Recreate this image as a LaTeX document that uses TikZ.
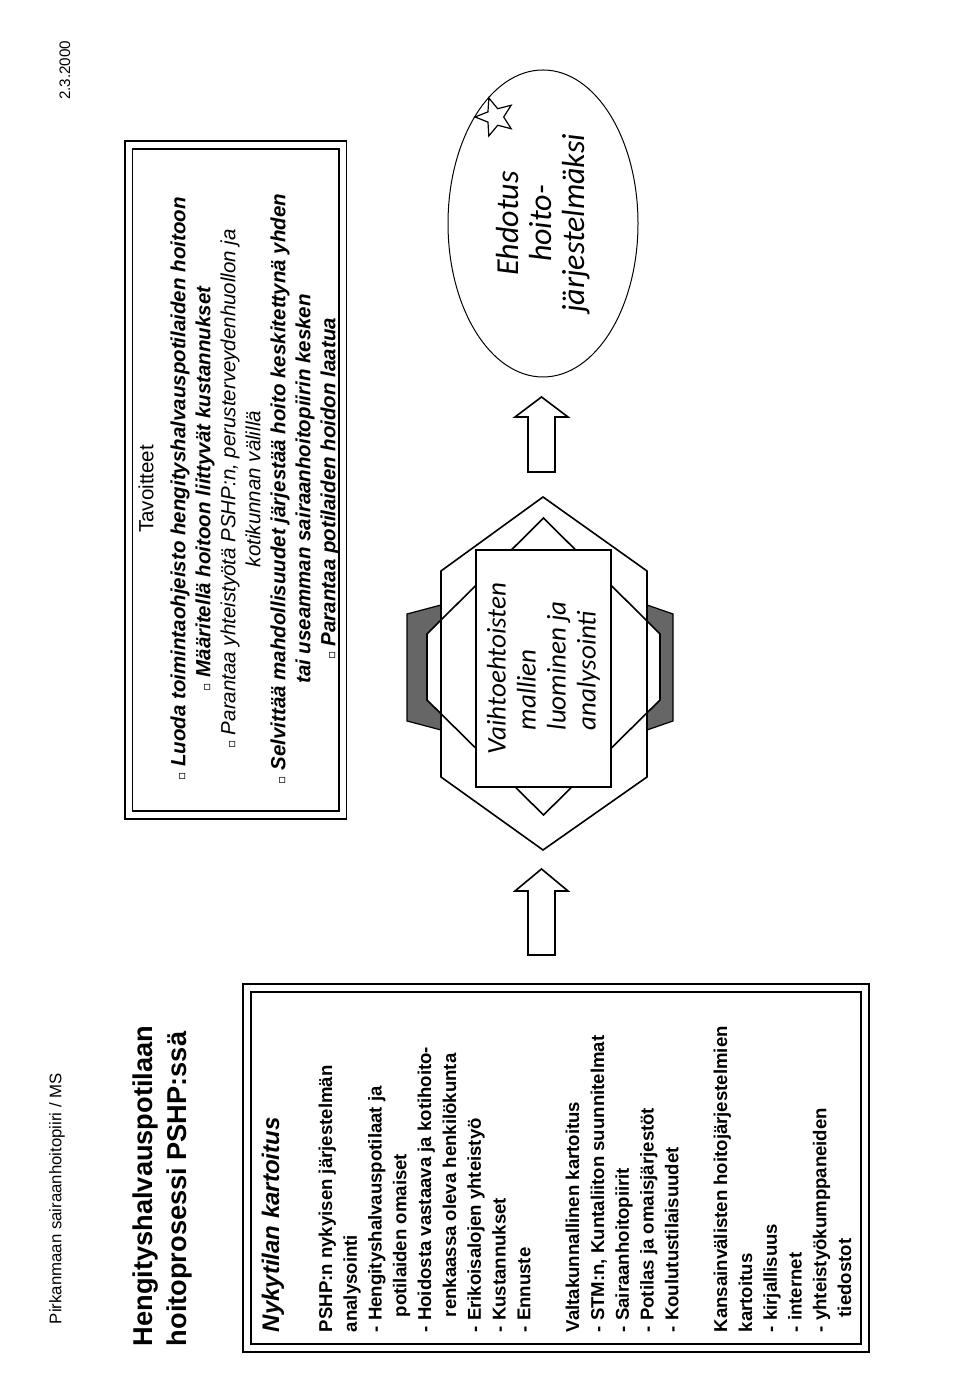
\documentclass[tikz,border=0pt]{standalone}
\usepackage{fontspec}
\setmainfont{Liberation Sans}
\newfontfamily\calfont{Carlito}
\newfontfamily\symfont{DejaVu Sans}
\usetikzlibrary{shapes.geometric}

\newcommand\sqbullet{{\symfont\upshape\mdseries\fontsize{6pt}{6pt}\selectfont ▫}}

\tikzset{
  frame/.style={draw, double, double distance=3pt, line width=0.8pt, inner sep=0pt},
  bodytext/.style={align=left, inner sep=0pt, font=\bfseries\fontsize{9.3pt}{12.4pt}\selectfont},
  goaltext/.style={align=center, inner sep=0pt, font=\itshape\fontsize{10.25pt}{12.5pt}\selectfont},
  hexline/.style={draw, line width=0.8pt, line join=miter},
  tabshade/.style={draw, fill=black!60, line width=0.6pt},
  blockarrow/.style={draw, fill=white, line width=0.8pt, line join=miter},
}

\begin{document}
\begin{tikzpicture}[x=0.5pt, y=0.5pt, thick]
\begin{scope}[shift={(960,0)}, rotate=90, transform shape]
  \path[use as bounding box, fill=white] (0,0) rectangle (1391,960);

  % header and title
  \node[anchor=west, inner sep=0pt, font=\fontsize{8.4pt}{10pt}\selectfont] (org) at (66,903) {Pirkanmaan sairaanhoitopiiri / MS};
  \node[anchor=east, inner sep=0pt, font=\fontsize{7.6pt}{10pt}\selectfont] (date) at (1351,895) {2.3.2000};
  \node[anchor=west, align=left, inner sep=0pt, font=\bfseries\fontsize{13.6pt}{17pt}\selectfont] (title) at (44,798) {Hengityshalvauspotilaan\\hoitoprosessi PSHP:ssä};

  % current state
  \node[frame, minimum width=180pt, minimum height=309pt] (current) at (223,404) {};
  \node[bodytext, anchor=north west] (currenttxt) at (58,699) {%
    {\fontsize{12pt}{12pt}\selectfont\itshape Nykytilan kartoitus}\\[14pt]
    PSHP:n nykyisen järjestelmän\\
    analysointi\\
    - Hengityshalvauspotilaat ja\\
    \hspace*{7.5pt}potilaiden omaiset\\
    - Hoidosta vastaava ja kotihoito-\\
    \hspace*{7.5pt}renkaassa oleva henkilökunta\\
    - Erikoisalojen yhteistyö\\
    - Kustannukset\\
    - Ennuste\\[12pt]
    Valtakunnallinen kartoitus\\
    - STM:n, Kuntaliiton suunnitelmat\\
    - Sairaanhoitopiirit\\
    - Potilas ja omaisjärjestöt\\
    - Koulutustilaisuudet\\[12pt]
    Kansainvälisten hoitojärjestelmien\\
    kartoitus\\
    - kirjallisuus\\
    - internet\\
    - yhteistyökumppaneiden\\
    \hspace*{7.5pt}tiedostot};

  % goals
  \node[frame, minimum width=335pt, minimum height=107pt] (goals) at (911,724.5) {};
  \node[goaltext] (goalstxt) at (902,721) {%
    {\upshape Tavoitteet}\\[3.5pt]
    \sqbullet\ \textbf{Luoda toimintaohjeisto hengityshalvauspotilaiden hoitoon}\\
    \sqbullet\ \textbf{Määritellä hoitoon liittyvät kustannukset}\\
    \sqbullet\ Parantaa yhteistyötä PSHP:n, perusterveydenhuollon ja\\
    kotikunnan välillä\\
    \sqbullet\ \textbf{Selvittää mahdollisuudet järjestää hoito keskitettynä yhden}\\
    \textbf{tai useamman sairaanhoitopiirin kesken}\\
    \sqbullet\ \textbf{Parantaa potilaiden hoidon laatua}};

  % arrows
  \draw[blockarrow] (436,405) -- (500,405) -- (500,392) -- (522,418.5) -- (500,445) -- (500,432) -- (436,432) -- cycle;
  \draw[blockarrow] (919,405) -- (974,405) -- (974,392) -- (994,418.5) -- (974,445) -- (974,432) -- (919,432) -- cycle;

  % models
  \draw[tabshade] (786,519) -- (777,553) -- (670,553) -- (661,519) -- cycle;
  \draw[tabshade] (786,313) -- (777,287) -- (670,287) -- (661,313) -- cycle;
  \draw[hexline, fill=white] (873,416.5) -- (757,300) -- (691,300) -- (576,416.5) -- (691,533) -- (757,533) -- cycle;
  \draw[hexline] (894,417) -- (820,313) -- (614,313) -- (541,417) -- (614,519) -- (820,519) -- cycle;
  \node[draw, fill=white, line width=0.8pt, minimum width=118.5pt, minimum height=67.5pt, align=left,
        font=\calfont\itshape\fontsize{13.5pt}{15pt}\selectfont] (models) at (722.5,416.5)
    {Vaihtoehtoisten\\\hspace*{12pt}mallien\\\hspace*{12pt}luominen ja\\\hspace*{12pt}analysointi};

  % proposal
  \node[ellipse, draw, line width=0.5pt, minimum width=153.5pt, minimum height=95pt, inner sep=0pt, align=center,
        font=\calfont\itshape\fontsize{16pt}{16.5pt}\selectfont] (proposal) at (1167.5,417) {Ehdotus\\hoito-\\järjestelmäksi};
  \node[star, star points=5, star point ratio=2.3, draw, fill=white, line width=0.6pt, minimum size=20pt, inner sep=0pt] (accent) at (1274,465) {};
\end{scope}
\end{tikzpicture}
\end{document}
